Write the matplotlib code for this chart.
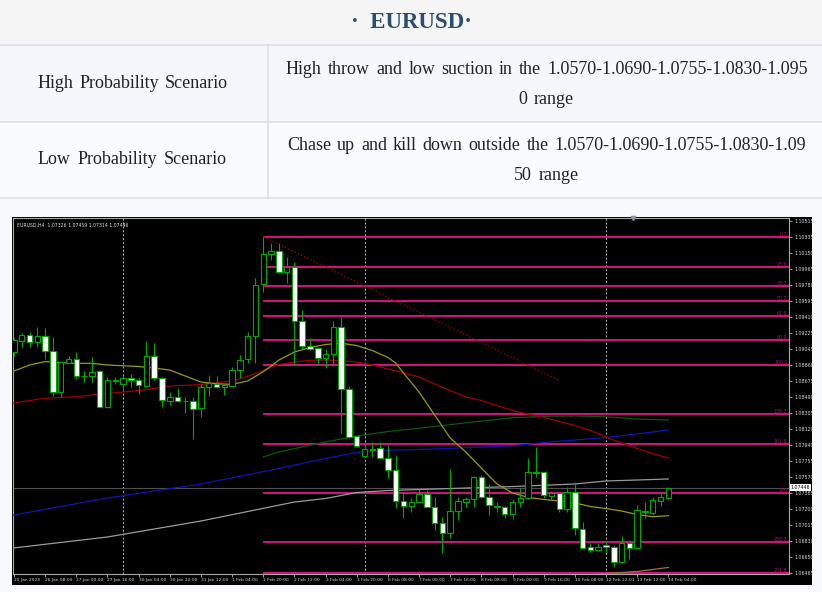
import matplotlib
matplotlib.use("Agg")
import matplotlib.pyplot as plt
from matplotlib.patches import Rectangle

# ---------------- data ----------------
title_text = "·  EURUSD·"
row_labels = ["High Probability Scenario", "Low Probability Scenario"]
row_lines = [
    ["High throw and low suction in the 1.0570-1.0690-1.0755-1.0830-1.095", "0 range"],
    ["Chase up and kill down outside the 1.0570-1.0690-1.0755-1.0830-1.09", "50 range"],
]
chart_header = "EURUSD,H4  1.07326 1.07459 1.07314 1.07446"

opens = [1.09008, 1.09138, 1.09207, 1.09126, 1.09192, 1.09023, 1.08544, 1.08884, 1.08927, 1.08733,
         1.08731, 1.08788, 1.08371, 1.08682, 1.08636, 1.08711, 1.08685, 1.08619, 1.08961, 1.08704,
         1.08447, 1.08493, 1.08443, 1.08443, 1.08359, 1.08601, 1.08639, 1.08601, 1.08619, 1.08800,
         1.08923, 1.09192, 1.09787, 1.10133, 1.10174, 1.09931, 1.09989, 1.09365, 1.09077, 1.09050,
         1.08935, 1.08984, 1.09292, 1.08581, 1.08041, 1.07814, 1.07888, 1.07899, 1.07791, 1.07649,
         1.07296, 1.07239, 1.07285, 1.07373, 1.07227, 1.07043, 1.06921, 1.07181, 1.07285, 1.07312,
         1.07572, 1.07342, 1.07239, 1.07227, 1.07143, 1.07285, 1.07324, 1.07623, 1.07623, 1.07354,
         1.07381, 1.07197, 1.07400, 1.06974, 1.06763, 1.06729, 1.06790, 1.06760, 1.06594, 1.06813,
         1.06748, 1.07181, 1.07158, 1.07296, 1.07326]
highs = [1.09169, 1.09230, 1.09241, 1.09292, 1.09281, 1.09177, 1.08895, 1.08961, 1.09005, 1.08792,
         1.08946, 1.08800, 1.08716, 1.08724, 1.08742, 1.08754, 1.08708, 1.09138, 1.09115, 1.08716,
         1.08550, 1.08596, 1.08486, 1.08486, 1.08639, 1.08742, 1.08731, 1.08636, 1.08838, 1.08973,
         1.09241, 1.09856, 1.10335, 1.10266, 1.10259, 1.10105, 1.10047, 1.09491, 1.09165, 1.09055,
         1.09039, 1.09368, 1.09407, 1.08616, 1.08045, 1.07976, 1.07976, 1.07976, 1.07937, 1.07822,
         1.07381, 1.07324, 1.07427, 1.07419, 1.07342, 1.07112, 1.07657, 1.07342, 1.07342, 1.07580,
         1.07592, 1.07488, 1.07285, 1.07235, 1.07312, 1.07439, 1.07784, 1.07911, 1.07630, 1.07411,
         1.07400, 1.07457, 1.07515, 1.07055, 1.06806, 1.06806, 1.06836, 1.06786, 1.06890, 1.06844,
         1.07247, 1.07285, 1.07335, 1.07373, 1.07459]
lows = [1.08962, 1.09062, 1.09069, 1.09062, 1.08923, 1.08501, 1.08493, 1.08877, 1.08696, 1.08665,
        1.08665, 1.08371, 1.08366, 1.08639, 1.08570, 1.08608, 1.08524, 1.08608, 1.08685, 1.08378,
        1.08398, 1.08430, 1.08308, 1.08010, 1.08256, 1.08504, 1.08596, 1.08513, 1.08619, 1.08704,
        1.08877, 1.08884, 1.09695, 1.10067, 1.09912, 1.09798, 1.08858, 1.09039, 1.09035, 1.08869,
        1.08820, 1.08846, 1.08072, 1.08014, 1.07914, 1.07802, 1.07802, 1.07784, 1.07554, 1.07208,
        1.07093, 1.07170, 1.07266, 1.07220, 1.06959, 1.06691, 1.06864, 1.07074, 1.07220, 1.07227,
        1.07327, 1.07131, 1.07170, 1.07093, 1.07082, 1.07227, 1.07312, 1.07572, 1.07324, 1.07304,
        1.07170, 1.07170, 1.06902, 1.06748, 1.06709, 1.06721, 1.06691, 1.06529, 1.06583, 1.06621,
        1.06737, 1.07093, 1.07131, 1.07235, 1.07314]
closes = [1.09146, 1.09207, 1.09126, 1.09195, 1.09023, 1.08550, 1.08889, 1.08930, 1.08734, 1.08728,
          1.08780, 1.08378, 1.08685, 1.08678, 1.08711, 1.08682, 1.08627, 1.08965, 1.08704, 1.08455,
          1.08493, 1.08443, 1.08440, 1.08351, 1.08601, 1.08647, 1.08608, 1.08627, 1.08800, 1.08915,
          1.09192, 1.09782, 1.10133, 1.10174, 1.09931, 1.09989, 1.09368, 1.09077, 1.09039, 1.08935,
          1.08984, 1.09292, 1.08581, 1.08033, 1.07926, 1.07888, 1.07885, 1.07791, 1.07649, 1.07296,
          1.07235, 1.07281, 1.07373, 1.07227, 1.07043, 1.06921, 1.07181, 1.07296, 1.07316, 1.07572,
          1.07342, 1.07247, 1.07220, 1.07143, 1.07285, 1.07324, 1.07623, 1.07620, 1.07362, 1.07381,
          1.07197, 1.07400, 1.06978, 1.06755, 1.06729, 1.06760, 1.06763, 1.06594, 1.06813, 1.06748,
          1.07189, 1.07170, 1.07304, 1.07335, 1.07446]

ma_yellow_idx = [0, 2, 4, 6, 8, 10, 12, 14, 16, 18, 20, 22, 24, 26, 28, 30, 32, 33, 34, 36, 38, 40,
                 42, 44, 46, 48, 49, 50, 52, 54, 56, 58, 60, 62, 64, 66, 68, 70, 72, 74, 76, 78, 80, 82, 84]
ma_yellow = [1.08789, 1.08858, 1.08898, 1.08884, 1.08877, 1.08877, 1.08858, 1.08849, 1.08841, 1.08823,
             1.08800, 1.08731, 1.08662, 1.08642, 1.08635, 1.08674, 1.08781, 1.08846, 1.08915, 1.09008,
             1.09059, 1.09094, 1.09109, 1.09082, 1.09025, 1.08944, 1.08881, 1.08766, 1.08547, 1.08282,
             1.08018, 1.07857, 1.07672, 1.07488, 1.07385, 1.07333, 1.07310, 1.07293, 1.07270, 1.07229,
             1.07206, 1.07177, 1.07137, 1.07112, 1.07123]
ma_red_idx = [0, 4, 8, 12, 16, 20, 24, 28, 30, 32, 34, 36, 38, 40, 42, 44, 46, 48, 50, 52, 54, 56,
              58, 60, 62, 64, 66, 68, 70, 72, 74, 76, 78, 80, 82, 84]
ma_red = [1.08421, 1.08476, 1.08493, 1.08530, 1.08564, 1.08616, 1.08633, 1.08674, 1.08726, 1.08795,
          1.08864, 1.08892, 1.08912, 1.08915, 1.08909, 1.08892, 1.08861, 1.08812, 1.08769, 1.08720,
          1.08639, 1.08564, 1.08490, 1.08449, 1.08392, 1.08334, 1.08294, 1.08254, 1.08208, 1.08162,
          1.08104, 1.08029, 1.07960, 1.07897, 1.07839, 1.07787]
ma_blue_idx = [0, 12, 24, 34, 40, 44, 48, 54, 64, 68, 76, 80, 84]
ma_blue = [1.07131, 1.07327, 1.07488, 1.07667, 1.07782, 1.07851, 1.07876, 1.07891, 1.07928, 1.07966,
           1.08023, 1.08064, 1.08110]
ma_gray_idx = [0, 12, 24, 36, 40, 44, 48, 56, 64, 72, 76, 80, 84]
ma_gray = [1.06752, 1.06878, 1.07062, 1.07281, 1.07321, 1.07390, 1.07413, 1.07436, 1.07459, 1.07488,
           1.07523, 1.07534, 1.07546]
ma_green_idx = [32, 34, 40, 44, 48, 54, 60, 64, 68, 72, 76, 80, 84]
ma_green = [1.07799, 1.07857, 1.07972, 1.08041, 1.08092, 1.08150, 1.08213, 1.08250, 1.08267, 1.08271,
            1.08262, 1.08236, 1.08225]
ma_tan_idx = [74, 76, 80, 84]
ma_tan = [1.06441, 1.06458, 1.06481, 1.06527]

trend_idx = [32, 70]
trend_price = [1.10335, 1.08681]

fib_high = 1.10335
fib_low = 1.08858
fib_levels = [0.0, 23.6, 38.2, 50.0, 61.8, 80.9, 100.0, 138.2, 161.8, 200.0, 238.2, 261.8]
fib_start_idx = 32

separators_idx = [14, 45, 76]
last_price = 1.07446

x_tick_idx = list(range(0, 85, 4))
x_tick_labels = ["25 Jan 2023", "26 Jan 08:00", "27 Jan 00:00", "27 Jan 16:00", "30 Jan 04:00",
                 "30 Jan 20:00", "31 Jan 12:00", "1 Feb 04:00", "1 Feb 20:00", "2 Feb 12:00",
                 "3 Feb 04:00", "3 Feb 20:00", "6 Feb 08:00", "7 Feb 00:00", "7 Feb 16:00",
                 "8 Feb 08:00", "9 Feb 00:00", "9 Feb 16:00", "10 Feb 08:00", "12 Feb 22:01",
                 "13 Feb 12:00", "14 Feb 04:00"]
price_ticks = [1.10515, 1.10335, 1.10150, 1.09965, 1.09780, 1.09595, 1.09410, 1.09225, 1.09045,
               1.08860, 1.08675, 1.08490, 1.08305, 1.08120, 1.07940, 1.07755, 1.07570, 1.07385,
               1.07200, 1.07015, 1.06830, 1.06650, 1.06465]

# ---------------- figure ----------------
W, H = 822, 592
fig = plt.figure(figsize=(W / 100, H / 100), dpi=100)
fig.patch.set_facecolor("#f7f9fc")

bg = fig.add_axes([0, 0, 1, 1])
bg.set_xlim(0, W)
bg.set_ylim(H, 0)
bg.axis("off")
bg.set_zorder(0)

# table backgrounds
bg.add_patch(Rectangle((0, 0), W, 45, facecolor="#f5f5f5", edgecolor="none"))
bg.add_patch(Rectangle((0, 45), W, 77, facecolor="#f4f8fd", edgecolor="none"))
bg.add_patch(Rectangle((0, 122), W, 76, facecolor="#fafbfc", edgecolor="none"))
for yy in (45, 122, 198):
    bg.plot([0, W], [yy, yy], color="#dcdfe3", lw=1.2)
bg.plot([268, 268], [45, 198], color="#dcdfe3", lw=1.2)

renderer = fig.canvas.get_renderer()
serif = "Liberation Serif"


def place_words(words, y, size, x0=None, x1=None, xc=None, gap=None, **kw):
    ts = [bg.text(0, y, w, fontsize=size, va="center", ha="left", family=serif, **kw) for w in words]
    widths = [t.get_window_extent(renderer=renderer).width for t in ts]
    if xc is not None:
        total = sum(widths) + gap * (len(words) - 1)
        x0 = xc - total / 2.0
    else:
        gap = (x1 - x0 - sum(widths)) / (len(words) - 1) if len(words) > 1 else 0
    x = x0
    for t, w in zip(ts, widths):
        t.set_x(x)
        x += w + gap


bg.text(411, 22, title_text, fontsize=16.5, fontweight="bold", family=serif, color="#2d4d70",
        ha="center", va="center")
txt_col = "#222222"
place_words(row_labels[0].split(), 84, 13, x0=38, x1=228, color=txt_col)
place_words(row_labels[1].split(), 160, 13, x0=38, x1=227, color=txt_col)
place_words(row_lines[0][0].split(), 70, 13, x0=286, x1=808, color=txt_col)
place_words(row_lines[0][1].split(), 100, 13, xc=546, gap=7, color=txt_col)
place_words(row_lines[1][0].split(), 145, 13, x0=287, x1=806, color=txt_col)
place_words(row_lines[1][1].split(), 175, 13, xc=546, gap=7, color=txt_col)

# black chart panel
bg.add_patch(Rectangle((12, 217), 800, 368, facecolor="black", edgecolor="none"))

# ---------------- chart axes ----------------
px_left, px_right, px_top, px_bot = 12.5, 789, 217.5, 574
ax = fig.add_axes([px_left / W, 1 - px_bot / H, (px_right - px_left) / W, (px_bot - px_top) / H])
ax.set_zorder(1)
ax.set_facecolor("black")
ax.set_xlim(-0.19, 99.49)
ax.set_ylim(1.06452, 1.10556)
for s in ax.spines.values():
    s.set_color("#a8a8a8")
    s.set_linewidth(0.8)

ax.yaxis.tick_right()
ax.set_yticks(price_ticks)
ax.set_yticklabels([f"{p:.5f}" for p in price_ticks])
ax.tick_params(axis="y", colors="#d8d8d8", labelsize=3.4, length=2.5, width=0.5, pad=1.2)
ax.set_xticks(x_tick_idx)
ax.set_xticklabels(x_tick_labels)
ax.tick_params(axis="x", colors="#d8d8d8", labelsize=3.2, length=2, width=0.5, pad=1.2)
for lab in ax.get_xticklabels():
    lab.set_ha("left")

# separators
for s in separators_idx:
    ax.axvline(s, color="#b8b8b8", lw=0.7, ls=(0, (2, 2)), zorder=1)

# fib levels
rng = fib_high - fib_low
for lv in fib_levels:
    p = fib_high - lv / 100.0 * rng
    ax.plot([fib_start_idx, 99.49], [p, p], color="#d0157f", lw=1.4, zorder=2, solid_capstyle="butt")
    lab = f"{lv:.1f}" if lv != 200.0 else "200"
    ax.text(99.3, p, lab, ha="right", va="bottom", fontsize=3.4, color="#a01868", zorder=3)

# bid line
ax.axhline(last_price, color="#505050", lw=0.8, zorder=2)

# trend line
ax.plot(trend_idx, trend_price, color="#9b0000", lw=1.0, ls=(0, (1, 1.5)), zorder=2)

# moving averages
ax.plot(ma_gray_idx, ma_gray, color="#9a9a9a", lw=0.9, zorder=3)
ax.plot(ma_blue_idx, ma_blue, color="#1414b4", lw=0.9, zorder=3)
ax.plot(ma_green_idx, ma_green, color="#0a5a0a", lw=0.9, zorder=3)
ax.plot(ma_red_idx, ma_red, color="#a00000", lw=0.9, zorder=3)
ax.plot(ma_yellow_idx, ma_yellow, color="#9a9a10", lw=0.9, zorder=3)
ax.plot(ma_tan_idx, ma_tan, color="#a0704a", lw=0.9, zorder=3)

# candles
green = "#00a800"
half = 0.35
for i, (o, h, l, c) in enumerate(zip(opens, highs, lows, closes)):
    ax.plot([i, i], [l, h], color=green, lw=0.8, zorder=4, solid_capstyle="butt")
    bottom = min(o, c)
    height = max(abs(c - o), 0.000005)
    face = "black" if c >= o else "white"
    ax.add_patch(Rectangle((i - half, bottom), 2 * half, height, facecolor=face,
                           edgecolor=green, lw=0.8, zorder=5))

# header and markers
ax.text(0.006, 0.985, chart_header, transform=ax.transAxes, fontsize=3.3, color="#e0e0e0",
        ha="left", va="top", zorder=6)
ax.plot([79.5], [1.10548], marker="v", ms=3, color="#9090a8", clip_on=False, zorder=6)

# current price box
ax.text(99.49 + 0.25, last_price, f"{last_price:.5f}", fontsize=3.4, color="black", ha="left",
        va="center", zorder=7, clip_on=False,
        bbox=dict(boxstyle="square,pad=0.15", facecolor="white", edgecolor="none"))

fig.savefig("out.png", dpi=100, facecolor=fig.get_facecolor())
